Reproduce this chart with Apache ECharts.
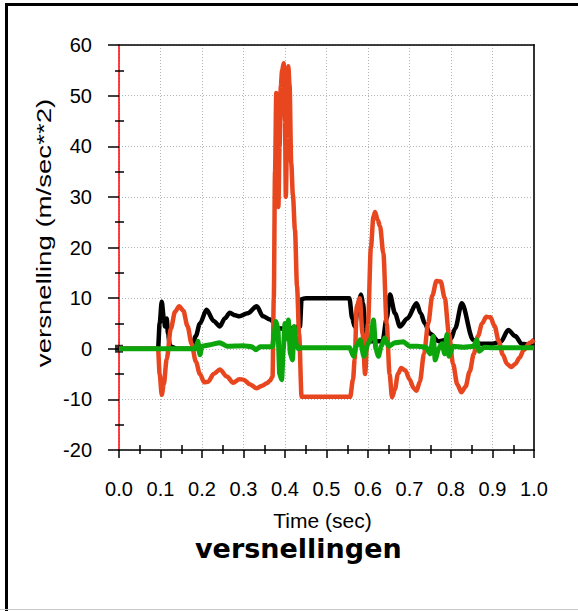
<!DOCTYPE html>
<html>
<head>
<meta charset="utf-8">
<script src="https://cdn.jsdelivr.net/npm/echarts@6/dist/echarts.min.js"></script>
<style>
html,body{margin:0;padding:0;background:#fff;}
#frame{position:absolute;left:5px;top:3px;width:573px;height:605px;border-top:3px solid #000;border-left:3px solid #000;}
#bottomline{position:absolute;left:0;top:609px;width:578px;height:1px;background:#c8c8c8;}
#chart{position:absolute;left:0;top:0;width:578px;height:611px;}
</style>
</head>
<body>
<div id="frame"></div>
<div id="bottomline"></div>
<div id="chart"></div>
<script>
// ---- data ----
const xTicks = ['0.0','0.1','0.2','0.3','0.4','0.5','0.6','0.7','0.8','0.9','1.0'];
const yTicks = [-20,-10,0,10,20,30,40,50,60];

const blackT = [0,0.094,0.098,0.103,0.108,0.111,0.115,0.118,0.123,0.14,0.175,0.185,0.195,0.211,0.228,0.243,0.255,0.267,0.28,0.29,0.31,0.332,0.347,0.364,0.371,0.38,0.41,0.436,0.44,0.45,0.555,0.562,0.568,0.577,0.583,0.588,0.593,0.60,0.635,0.645,0.653,0.665,0.677,0.695,0.717,0.727,0.737,0.749,0.77,0.80,0.81,0.826,0.853,0.87,0.90,0.92,0.938,0.955,0.97,1.0];
const blackV = [0,0,5,9.3,6,4.4,6,3,0.5,0,0,2.5,5,7.7,5.5,4.4,6,7.1,6.6,6.4,7,8.4,6.4,5.8,5.4,4,4,4.4,9.8,10,10,6,4.4,9,10.7,9,4.4,1.5,1.5,6,10.7,7,4.4,6,9,7,5,3,1.5,2,4,9,1.8,1,1,1.4,3.7,2.5,1,0.5];

const redT = [0,0.094,0.098,0.103,0.108,0.115,0.125,0.135,0.145,0.155,0.165,0.175,0.185,0.195,0.205,0.215,0.228,0.243,0.26,0.275,0.29,0.30,0.315,0.332,0.345,0.356,0.364,0.37,0.373,0.376,0.379,0.382,0.384,0.387,0.39,0.393,0.397,0.40,0.402,0.405,0.408,0.411,0.415,0.419,0.424,0.429,0.434,0.44,0.557,0.564,0.568,0.573,0.58,0.587,0.593,0.60,0.607,0.613,0.617,0.623,0.629,0.637,0.645,0.652,0.658,0.665,0.672,0.68,0.69,0.70,0.71,0.717,0.725,0.735,0.745,0.755,0.765,0.775,0.785,0.795,0.805,0.815,0.825,0.835,0.845,0.855,0.865,0.875,0.885,0.895,0.905,0.915,0.925,0.935,0.945,0.955,0.965,0.975,0.99,1.0];
const redV = [0,0,-5,-9.1,-7,-2,4,7.3,8.4,7.5,4.5,1,-2.5,-5,-6.6,-6.5,-5,-4.1,-5.5,-6.7,-6,-6.1,-7,-7.8,-7.3,-6.8,-6.3,-5.5,10,35,50.5,45,28,40,52,55,56.4,45,30,42,55.8,52,36.7,30.4,23.5,12.3,3,-9.5,-9.5,-6,-2,8.4,10,3,-5,5,20,26,27,25.5,24.2,18.9,5,-5,-9.6,-8,-5,-3.8,-4.3,-6,-7.8,-8.3,-6.5,-1,5,10.5,13.4,13.3,10,3,-3,-7,-8.6,-7.5,-4.5,-1,2.5,5,6.3,6.2,4.5,1.5,-1.2,-3,-3.6,-3,-1.8,-0.3,1.2,1.8];

const greenT = [0,0.185,0.19,0.195,0.20,0.22,0.243,0.26,0.30,0.32,0.33,0.34,0.37,0.374,0.378,0.383,0.387,0.392,0.396,0.40,0.404,0.408,0.413,0.418,0.422,0.427,0.432,0.44,0.556,0.565,0.572,0.581,0.59,0.60,0.607,0.613,0.619,0.625,0.632,0.64,0.65,0.665,0.685,0.70,0.72,0.74,0.75,0.757,0.762,0.77,0.778,0.785,0.79,0.795,0.805,0.83,0.855,0.862,0.868,0.88,0.90,1.0];
const greenV = [0,0,1.5,-1.2,0.5,0.8,1.2,0.5,0.6,0.4,-0.2,0.4,0.4,3,5.4,4,-5,-6.1,0,5,2,5.7,-1,-2.2,4.4,1,0,0.2,0.2,-1.5,0.5,1.8,-1.5,1,2,5.7,0,-1.5,0.5,2.1,0.5,1.2,1.4,0.5,0.5,0.3,-1,2.4,-2.2,0,1,-1,2.8,-1.5,0.5,0.3,0.5,1.8,-0.5,0.3,0.2,0.2];

const zip = (t, v) => t.map((x, i) => [x, v[i]]);

const chart = echarts.init(document.getElementById('chart'), null, {renderer: 'svg'});

const FONT = 'Liberation Sans';
const baseX = {type: 'value', min: 0, max: 1, interval: 0.1, gridIndex: 0};
const baseY = {type: 'value', min: -20, max: 60, interval: 10, gridIndex: 0};
const GRID = {show: true, lineStyle: {color: '#b4b4b4', type: [1, 2], width: 1}};

chart.setOption({
  animation: false,
  backgroundColor: 'transparent',
  title: {
    text: 'versnellingen',
    left: 190, top: 530,
    textStyle: {fontFamily: 'DejaVu Sans', fontWeight: 'bold', fontSize: 27, color: '#000'}
  },
  graphic: [{
    type: 'text', x: 44, y: 233, rotation: Math.PI / 2, scaleX: 1.38,
    style: {text: 'versnelling (m/sec**2)', font: '20px "Liberation Sans"', fill: '#000',
      textAlign: 'center', textVerticalAlign: 'middle'}
  }],
  grid: {left: 119, top: 45, width: 415, height: 405, containLabel: false},
  xAxis: [
    Object.assign({}, baseX, {
      position: 'bottom',
      name: 'Time (sec)', nameLocation: 'middle', nameGap: 60,
      nameTextStyle: {fontFamily: FONT, fontSize: 21, color: '#000', padding: [0, 8, 0, 0]},
      axisLine: {show: true, onZero: false, lineStyle: {color: '#000', width: 1.5}},
      axisTick: {show: true, length: 8, lineStyle: {color: '#000', width: 1.5}},
      minorTick: {show: true, splitNumber: 2, length: 4, lineStyle: {color: '#000', width: 1.5}},
      axisLabel: {fontFamily: FONT, fontSize: 20, color: '#000', margin: 29,
        formatter: (v) => xTicks[Math.round(v * 10)]},
      splitLine: GRID,
      minorSplitLine: {show: false}
    }),
    Object.assign({}, baseX, {
      position: 'bottom',
      axisLine: {show: false, onZero: false},
      axisTick: {show: false, inside: true},
      minorTick: {show: true, splitNumber: 2, length: 5, lineStyle: {color: '#000', width: 1.5}},
      axisLabel: {show: false},
      splitLine: {show: false}
    }),
    Object.assign({}, baseX, {
      position: 'top',
      axisLine: {show: true, onZero: false, lineStyle: {color: '#000', width: 1.5}},
      axisTick: {show: false}, axisLabel: {show: false}, splitLine: {show: false}
    })
  ],
  yAxis: [
    Object.assign({}, baseY, {
      position: 'left',
      axisLine: {show: true, onZero: false, lineStyle: {color: '#ff0000', width: 1.5}},
      axisTick: {show: true, length: 11, lineStyle: {color: '#000', width: 1.5}},
      minorTick: {show: true, splitNumber: 2, length: 4, lineStyle: {color: '#000', width: 1.5}},
      axisLabel: {fontFamily: FONT, fontSize: 20, color: '#000', margin: 27,
        formatter: (v) => String(yTicks[Math.round((v + 20) / 10)])},
      splitLine: GRID
    }),
    Object.assign({}, baseY, {
      position: 'left',
      axisLine: {show: false, onZero: false},
      axisTick: {show: false, inside: true},
      minorTick: {show: true, splitNumber: 2, length: 5, lineStyle: {color: '#000', width: 1.5}},
      axisLabel: {show: false}, splitLine: {show: false}
    }),
    Object.assign({}, baseY, {
      position: 'right',
      axisLine: {show: true, onZero: false, lineStyle: {color: '#333', width: 2}},
      axisTick: {show: false}, axisLabel: {show: false}, splitLine: {show: false}
    })
  ],
  series: [
    {type: 'line', data: zip(blackT, blackV), showSymbol: false, smooth: 0.3, smoothMonotone: 'x',
      lineStyle: {color: '#000', width: 4.5}, z: 2},
    {type: 'scatter', data: [[blackT[0], blackV[0]]], symbol: 'rect', symbolSize: 8, itemStyle: {color: '#000'}, z: 2},
    {type: 'line', data: zip(redT, redV), showSymbol: false, smooth: 0.3, smoothMonotone: 'x',
      lineStyle: {color: '#e8461e', width: 4.5}, z: 3},
    {type: 'line', data: zip(greenT, greenV), showSymbol: false, smooth: 0.2, smoothMonotone: 'x',
      lineStyle: {color: '#0ca60c', width: 5}, z: 4}
  ]
});
</script>
</body>
</html>
